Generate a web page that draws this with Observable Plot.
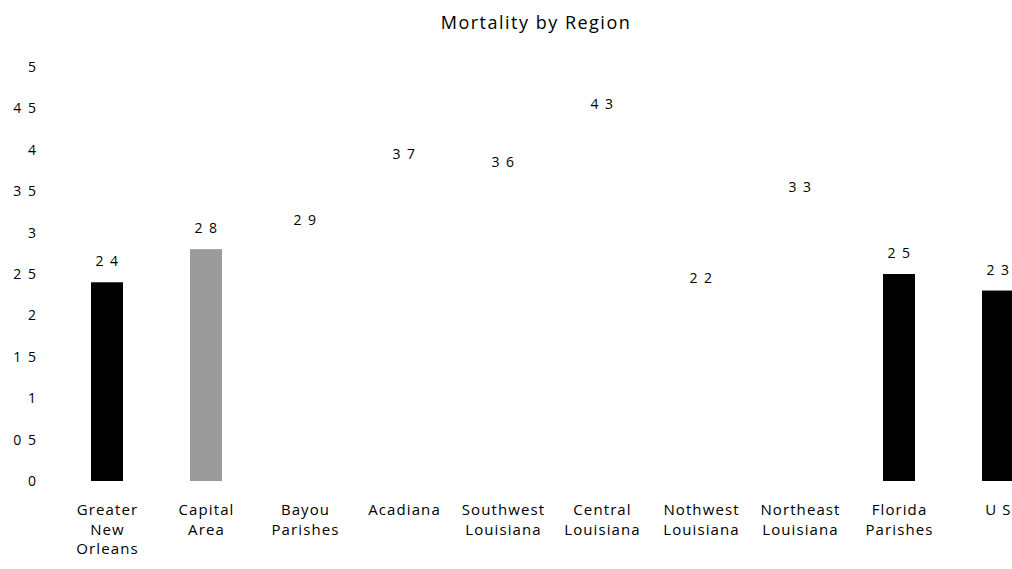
<!DOCTYPE html>
<html>
<head>
<meta charset="utf-8">
<script src="https://cdn.jsdelivr.net/npm/d3@7"></script>
<script src="https://cdn.jsdelivr.net/npm/@observablehq/plot@0.6"></script>
<style>
  html, body { margin: 0; padding: 0; background: #fff; overflow: hidden; width: 1012px; height: 569px; }
  #title { width: 1072px; height: 40px; line-height: 44px; text-align: center;
           font-family: "Open Sans", sans-serif; font-size: 18px; letter-spacing: 1.5px; color: #000; }
  #chart svg { max-width: none !important; }
  #chart g[aria-label="x-axis tick label"] text { letter-spacing: 1.1px; }
  #chart g[aria-label="y-axis tick label"] text { letter-spacing: 1.5px; }
  #chart g[aria-label="text"] text { letter-spacing: 1.5px; }
</style>
</head>
<body>
<div id="title">Mortality by Region</div>
<div id="chart"></div>
<script>
const regions = ["Greater\nNew\nOrleans", "Capital\nArea", "Bayou\nParishes", "Acadiana",
  "Southwest\nLouisiana", "Central\nLouisiana", "Nothwest\nLouisiana", "Northeast\nLouisiana",
  "Florida\nParishes", "U S"];
const values = [2.4, 2.8, 2.9, 3.7, 3.6, 4.3, 2.2, 3.3, 2.5, 2.3];
const valueLabels = ["2 4", "2 8", "2 9", "3 7", "3 6", "4 3", "2 2", "3 3", "2 5", "2 3"];
const barColors = ["#000000", "#9b9b9b", "#ffffff", "#ffffff", "#ffffff", "#ffffff", "#ffffff", "#ffffff", "#000000", "#000000"];
const yTicks = [0, 0.5, 1, 1.5, 2, 2.5, 3, 3.5, 4, 4.5, 5];
const yTickLabels = ["0", "0 5", "1", "1 5", "2", "2 5", "3", "3 5", "4", "4 5", "5"];

const data = regions.map((r, i) => ({region: r, value: values[i], label: valueLabels[i], color: barColors[i]}));

const chart = Plot.plot({
  width: 1061,
  height: 529,
  marginTop: 27,
  marginBottom: 88,
  marginLeft: 44,
  marginRight: 0,
  style: {fontFamily: "Open Sans, sans-serif", color: "#000", background: "#fff", maxWidth: "none"},
  x: {domain: regions, paddingInner: 0.68, paddingOuter: 0.441, axis: null},
  y: {domain: [0, 5], axis: null},
  color: {type: "identity"},
  marks: [
    Plot.barY(data, {x: "region", y: "value", fill: "color"}),
    Plot.text(data, {x: "region", y: "value", text: "label", dy: -21, fontSize: 14, fill: "#000"}),
    Plot.axisY({ticks: yTicks, tickFormat: (d) => yTickLabels[yTicks.indexOf(d)], tickSize: 0, tickPadding: 7, fontSize: 14, label: null}),
    Plot.axisX({tickSize: 0, tickPadding: 20, fontSize: 15, lineHeight: 1.3, label: null})
  ]
});
chart.style.maxWidth = "none";
document.getElementById("chart").appendChild(chart);
</script>
</body>
</html>
